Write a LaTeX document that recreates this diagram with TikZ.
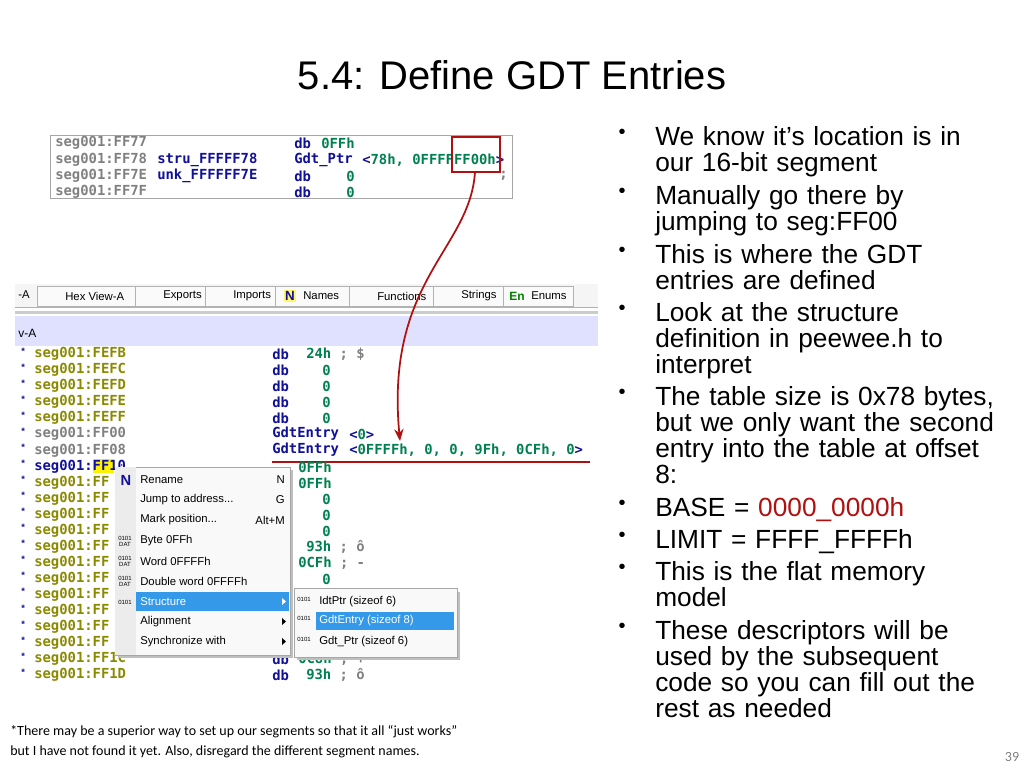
\documentclass[tikz,border=0pt]{standalone}
\usepackage{fontspec}
\setmainfont{Liberation Sans}
\newfontfamily\codef{DejaVu Sans Mono}
\newfontfamily\notef{Carlito}
\usetikzlibrary{arrows.meta}
\hyphenpenalty=10000
\exhyphenpenalty=10000
\definecolor{olv}{HTML}{8A8A00}
\definecolor{nav}{HTML}{10109A}
\definecolor{grn}{HTML}{008050}
\definecolor{gry}{HTML}{808080}
\definecolor{dred}{HTML}{B01010}
\definecolor{selb}{HTML}{3399E8}
\tikzset{
 code/.style={anchor=west,inner sep=0pt,font=\codef\bfseries\fontsize{10.4}{10}\selectfont},
 bul/.style={anchor=north west,inner sep=0pt,font=\fontsize{19.7}{19.5}\selectfont,text width=258pt,align=left},
 menu/.style={anchor=west,inner sep=0pt,font=\fontsize{8.5}{9}\selectfont},
 tab/.style={anchor=west,inner sep=0pt,font=\fontsize{8.5}{9}\selectfont},
}
\begin{document}
\begin{tikzpicture}[x=0.75pt,y=-0.75pt]
\useasboundingbox[fill=white] (0,0) rectangle (1024,768);
\node[font=\fontsize{30}{30}\selectfont] (title) at (512,75) {5.4: Define GDT Entries};
% top code box
\draw[gray!70] (50,135) rectangle (512,198);
\foreach \y/\a/\c/\d in {143/seg001:FF77/db/0FFh,192/seg001:FF7F/db/{\ \ \ 0}}{
 \node[code,gry] at (55,\y) {\a};
 \node[code,nav] at (294,\y) {\c};
 \node[code,grn] at (321,\y) {\d};}
\node[code,gry] at (55,160) {seg001:FF78};
\node[code,nav] at (157,160) {stru\_FFFFF78};
\node[code,nav] at (294,160) {Gdt\_Ptr};
\node[code,grn] at (362,160) {\textcolor{nav}{<}78h, 0FFFFFF00h\textcolor{nav}{>}};
\node[code,gry] at (55,176) {seg001:FF7E};
\node[code,nav] at (157,176) {unk\_FFFFFF7E};
\node[code,nav] at (294,176) {db};
\node[code,grn] at (321,176) {\ \ \ 0};
\node[code,gry] at (499,176) {;};
\draw[dred,line width=1.5pt] (452,137) rectangle (500,172);
\coordinate (boxb) at (475,172);
% tab bar
\fill[gray!8] (15,284) rectangle (598,307);
\draw[gray!60] (15,307) -- (598,307);
\node[tab] at (18,295) {-A};
\foreach \x/\w/\t in {37/98/Hex View-A,135/70/Exports,205/70/Imports,275/74/Names,349/84/Functions,433/70/Strings,503/70/Enums}{
 \draw[gray!60,fill=gray!4] (\x,286) rectangle (\x+\w,306);
 \node[tab] at (\x+28,296) {\t};}
\node[font=\bfseries\fontsize{10}{10}\selectfont,nav,fill=yellow!60,inner sep=1pt] at (290,296) {N};
\node[font=\bfseries\fontsize{9}{9}\selectfont,green!50!black] at (517,296) {En};
\fill[gray!40] (15,311) rectangle (598,314);
\fill[blue!12] (15,316) rectangle (598,346);
\node[tab,font=\fontsize{9}{9}\selectfont] at (18,333) {v-A};
% listing
\fill[yellow] (93,459) rectangle (114,473);
\foreach \i/\lab/\col in {0/FEFB/olv,1/FEFC/olv,2/FEFD/olv,3/FEFE/olv,4/FEFF/olv,5/FF00/gry,6/FF08/gry,7/FF10/nav,8/FF/olv,9/FF/olv,10/FF/olv,11/FF/olv,12/FF/olv,13/FF/olv,14/FF/olv,15/FF/olv,16/FF/olv,17/FF/olv,18/FF/olv,19/FF1C/olv,20/FF1D/olv}{
 \pgfmathsetmacro\yy{354+16.05*\i}
 \node[code,nav,font=\bfseries\fontsize{7}{7}\selectfont] at (21,\yy-3) {*};
 \node[code,\col] at (34,\yy) {seg001:\lab};}
\node[code,nav] at (272,354) {db}; \node[code,grn] at (306,354) {24h \textcolor{gry}{; \$}};
\foreach \i in {1,2,3,4}{\pgfmathsetmacro\yy{354+16.05*\i}
 \node[code,nav] at (272,\yy) {db}; \node[code,grn] at (322,\yy) {0};}
\node[code,nav] at (272,434) {GdtEntry}; \node[code,grn] at (349,434) {\textcolor{nav}{<}0\textcolor{nav}{>}};
\node[code,nav] at (272,450) {GdtEntry}; \node[code,grn] at (349,450) {\textcolor{nav}{<}0FFFFh, 0, 0, 9Fh, 0CFh, 0\textcolor{nav}{>}};
\draw[dred,line width=1.5pt] (272,462) -- (590,462);
\node[code,grn] at (298,467) {0FFh};
\node[code,grn] at (298,483) {0FFh};
\foreach \y in {499,515,531,579}{\node[code,grn] at (322,\y) {0};}
\node[code,grn] at (306,547) {93h \textcolor{gry}{; ô}};
\node[code,grn] at (298,563) {0CFh \textcolor{gry}{; -}};
\node[code,nav] at (272,659) {db}; \node[code,grn] at (298,659) {0C8h \textcolor{gry}{; +}};
\node[code,nav] at (272,675) {db}; \node[code,grn] at (306,675) {93h \textcolor{gry}{; ô}};
% context menu
\fill[black!25] (118,470) rectangle (293,658);
\draw[gray!70,fill=gray!5] (115,467) rectangle (290,655);
\fill[gray!15] (115,467) rectangle (136,655);
\node[font=\bfseries\fontsize{11}{11}\selectfont,nav] at (126,480) {N};
\foreach \y/\t/\k in {480/{Rename}/N,500/{Jump to address...}/G,520/{Mark position...}/Alt+M}{
 \node[menu] at (140,\y) {\t}; \node[menu,anchor=east] at (285,\y) {\k};}
\foreach \y/\t in {541/Byte 0FFh,561/Word 0FFFFh,581/Double word 0FFFFh}{
 \node[font=\fontsize{4.5}{4.5}\selectfont,align=center,inner sep=0pt] at (125,\y) {0101\\DAT};
 \node[menu] at (140,\y) {\t};}
\fill[selb] (136,592) rectangle (289,611);
\node[menu,white] at (140,602) {Structure};
\fill[white] (282,598) -- (286,601.5) -- (282,605) -- cycle;
\node[font=\fontsize{4.5}{4.5}\selectfont,inner sep=0pt] at (125,602) {0101};
\node[menu] at (140,622) {Alignment};
\fill (282,618) -- (286,621.5) -- (282,625) -- cycle;
\node[menu] at (140,642) {Synchronize with};
\fill (282,638) -- (286,641.5) -- (282,645) -- cycle;
% submenu
\fill[black!25] (297,592) rectangle (460,660);
\draw[gray!70,fill=gray!5] (294,588) rectangle (457,657);
\fill[selb] (316,612) rectangle (454,630);
\foreach \y/\t/\c in {602/IdtPtr (sizeof 6)/black,621/GdtEntry (sizeof 8)/white,642/Gdt\_Ptr (sizeof 6)/black}{
 \node[font=\fontsize{4.5}{4.5}\selectfont,inner sep=0pt] at (304,\y-3) {0101};
 \node[menu,\c] at (319,\y) {\t};}
% arrow
\coordinate (tgt) at (400,441);
\draw[dred,line width=1.3pt,-{Stealth[length=9pt,width=7pt]}] (boxb) .. controls (470,250) and (385,280) .. (tgt);
% bullets
\foreach \y/\t in {
 126/{We know it’s location is in our 16-bit segment},
 185/{Manually go there by jumping to seg:FF00},
 244/{This is where the GDT entries are defined},
 302/{Look at the structure definition in peewee.h to interpret},
 386/{The table size is 0x78 bytes, but we only want the second entry into the table at offset 8:},
 497/{BASE = \textcolor{dred}{0000\_0000h}},
 529/{LIMIT = FFFF\_FFFFh},
 561/{This is the flat memory model},
 620/{These descriptors will be used by the subsequent code so you can fill out the rest as needed}}{
 \node[font=\fontsize{15}{15}\selectfont,anchor=north,inner sep=0pt] at (622,\y+3) {•};
 \node[bul] at (655,\y) {\t};}
% footnote
\node[anchor=west,inner sep=0pt,font=\notef\fontsize{10.5}{12}\selectfont] (fn1) at (10,732) {*There may be a superior way to set up our segments so that it all “just works”};
\node[anchor=west,inner sep=0pt,font=\notef\fontsize{10.5}{12}\selectfont] (fn2) at (10,752) {but I have not found it yet. Also, disregard the different segment names.};
\node[font=\notef\fontsize{10.5}{12}\selectfont,gray] (pg) at (1012,757) {39};
\end{tikzpicture}
\end{document}
